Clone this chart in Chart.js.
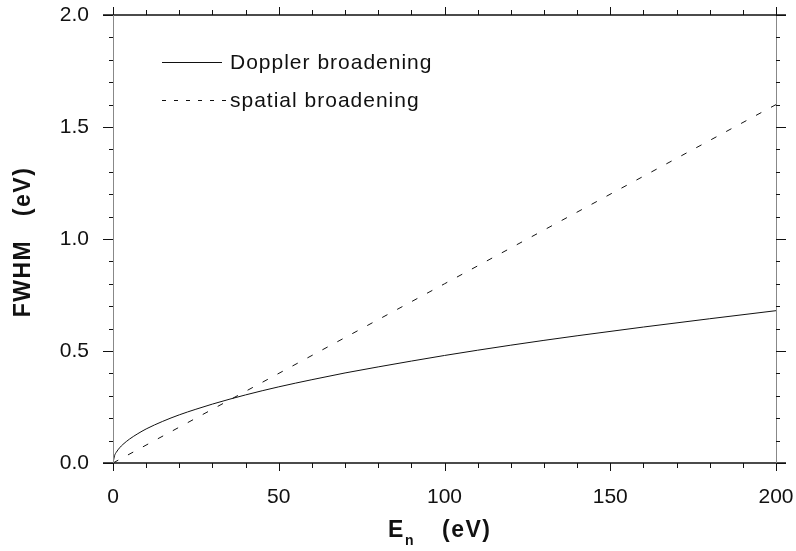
<!DOCTYPE html>
<html>
<head>
<meta charset="utf-8">
<script src="https://cdn.jsdelivr.net/npm/chart.js@4"></script>
<style>
  html, body { margin: 0; padding: 0; background: #fff; }
</style>
</head>
<body>
<canvas id="fwhm" width="796" height="551"></canvas>
<script>
// values
const energy = [0, 0.5, 1, 2, 3, 5, 7.5, 10, 15, 20, 25, 30, 40, 50, 60, 70, 80, 90, 100, 120, 140, 160, 180, 200];
const doppler = [0, 0.034, 0.048, 0.068, 0.083, 0.107, 0.131, 0.152, 0.186, 0.215, 0.24, 0.263, 0.304, 0.34, 0.372, 0.402, 0.429, 0.455, 0.48, 0.526, 0.568, 0.607, 0.644, 0.68];
const spatialE = [0, 100, 200];
const spatial = [0, 0.8, 1.6];
const xTicks = [0, 50, 100, 150, 200];
const yTicks = [0.0, 0.5, 1.0, 1.5, 2.0];
const legendNames = ['Doppler broadening', 'spatial broadening'];

const ink = '#111';
const font = '"Liberation Sans", Arial, Helvetica, sans-serif';

// frame, outward ticks, titles, legend
const decor = {
  id: 'decor',
  afterDraw(chart) {
    const ctx = chart.ctx;
    const a = chart.chartArea;
    const xs = chart.scales.x, ys = chart.scales.y;
    ctx.save();
    // frame
    ctx.strokeStyle = ink;
    ctx.lineWidth = 1.5;
    ctx.beginPath();
    ctx.moveTo(a.left - 10, a.top); ctx.lineTo(a.right + 10, a.top);
    ctx.moveTo(a.left - 10, a.bottom); ctx.lineTo(a.right + 10, a.bottom);
    ctx.stroke();
    ctx.strokeStyle = '#888';
    ctx.lineWidth = 1;
    ctx.beginPath();
    ctx.moveTo(a.left + 0.5, a.top); ctx.lineTo(a.left + 0.5, a.bottom + 8);
    ctx.moveTo(a.right + 0.5, a.top); ctx.lineTo(a.right + 0.5, a.bottom + 8);
    ctx.stroke();

    // x ticks, bottom and top
    ctx.strokeStyle = ink;
    ctx.beginPath();
    for (let v = 0; v <= 200; v += 10) {
      const px = Math.round(xs.getPixelForValue(v)) + 0.5;
      const len = v % 50 === 0 ? 8 : 5;
      ctx.moveTo(px, a.bottom); ctx.lineTo(px, a.bottom + len);
      ctx.moveTo(px, a.top); ctx.lineTo(px, a.top - len);
    }
    // y ticks, left and right
    for (let i = 0; i <= 20; i++) {
      const v = i / 10;
      const py = Math.round(ys.getPixelForValue(v)) + 0.5;
      const len = i % 5 === 0 ? 10 : 4;
      ctx.moveTo(a.left, py); ctx.lineTo(a.left - len, py);
      ctx.moveTo(a.right, py); ctx.lineTo(a.right + len, py);
    }
    ctx.stroke();

    // axis titles
    ctx.fillStyle = ink;
    ctx.textBaseline = 'alphabetic';
    ctx.textAlign = 'left';
    ctx.letterSpacing = '1.5px';
    ctx.font = 'bold 23px ' + font;
    ctx.fillText('E', 388, 537);
    ctx.font = 'bold 14px ' + font;
    ctx.fillText('n', 405, 545);
    ctx.font = 'bold 23px ' + font;
    ctx.fillText('(eV)', 442, 537);

    ctx.save();
    ctx.translate(30, 242);
    ctx.rotate(-Math.PI / 2);
    ctx.textAlign = 'center';
    ctx.font = 'bold 23px ' + font;
    ctx.fillText('FWHM   (eV)', 0, 0);
    ctx.restore();

    // legend
    ctx.font = '21px ' + font;
    ctx.letterSpacing = '1px';
    ctx.textAlign = 'left';
    ctx.textBaseline = 'middle';
    ctx.lineWidth = 1;
    ctx.strokeStyle = ink;
    ctx.beginPath();
    ctx.moveTo(162, 62.5); ctx.lineTo(222, 62.5);
    ctx.stroke();
    ctx.fillText(legendNames[0], 230, 63);
    ctx.setLineDash([4, 8]);
    ctx.beginPath();
    ctx.moveTo(162, 100.5); ctx.lineTo(226, 100.5);
    ctx.stroke();
    ctx.setLineDash([]);
    ctx.fillText(legendNames[1], 230, 101);
    ctx.restore();
  }
};

new Chart(document.getElementById('fwhm'), {
  type: 'line',
  data: {
    datasets: [
      {
        label: legendNames[0],
        data: energy.map((e, i) => ({ x: e, y: doppler[i] })),
        borderColor: ink,
        borderWidth: 1,
        pointRadius: 0,
        cubicInterpolationMode: 'monotone'
      },
      {
        label: legendNames[1],
        data: spatialE.map((e, i) => ({ x: e, y: spatial[i] })),
        borderColor: ink,
        borderWidth: 1,
        borderDash: [6, 11],
        pointRadius: 0
      }
    ]
  },
  options: {
    responsive: false,
    animation: false,
    layout: { padding: { top: 15, right: 20, left: 0, bottom: 0 } },
    plugins: { legend: { display: false }, tooltip: { enabled: false } },
    scales: {
      x: {
        type: 'linear',
        min: 0, max: 200,
        afterBuildTicks: s => { s.ticks = xTicks.map(v => ({ value: v })); },
        afterFit: s => { s.height = 88; s.paddingLeft = 0; s.paddingRight = 0; },
        grid: { display: false },
        border: { display: false },
        ticks: { color: ink, font: { size: 21, family: font }, padding: 14, maxRotation: 0 }
      },
      y: {
        min: 0, max: 2,
        afterBuildTicks: s => { s.ticks = yTicks.map(v => ({ value: v })); },
        afterFit: s => { s.width = 113; s.paddingTop = 0; s.paddingBottom = 0; },
        grid: { display: false },
        border: { display: false },
        ticks: { color: ink, font: { size: 21, family: font }, padding: 16, callback: v => v.toFixed(1) }
      }
    }
  },
  plugins: [decor]
});
</script>
</body>
</html>
